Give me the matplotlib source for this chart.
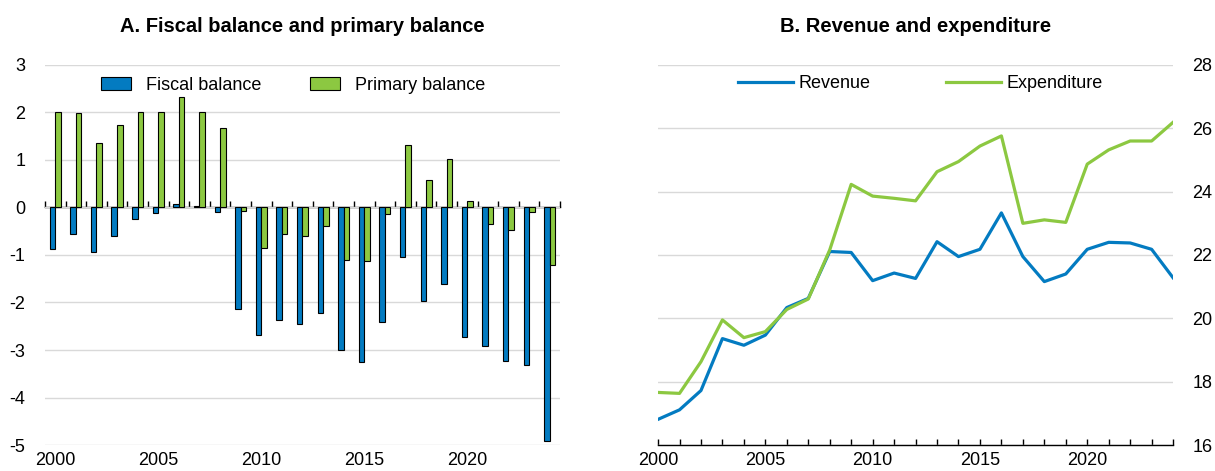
import numpy as np
import matplotlib
matplotlib.use("Agg")
import matplotlib.pyplot as plt

plt.rcParams['font.family'] = ['Liberation Sans', 'DejaVu Sans']
plt.rcParams['axes.unicode_minus'] = False

years = list(range(2000, 2025))

fiscal_balance = [-0.87, -0.55, -0.93, -0.59, -0.24, -0.11, 0.08, 0.03, -0.10,
                  -2.14, -2.68, -2.36, -2.46, -2.22, -3.00, -3.26, -2.41, -1.05,
                  -1.97, -1.62, -2.73, -2.92, -3.23, -3.31, -4.91]
primary_balance = [2.01, 1.99, 1.35, 1.73, 2.01, 2.00, 2.32, 2.01, 1.67,
                   -0.08, -0.85, -0.56, -0.61, -0.38, -1.10, -1.13, -0.14, 1.32,
                   0.58, 1.03, 0.13, -0.34, -0.47, -0.10, -1.21]

revenue = [16.81, 17.11, 17.72, 19.36, 19.15, 19.47, 20.34, 20.63, 22.11,
           22.08, 21.19, 21.43, 21.26, 22.42, 21.95, 22.18, 23.33, 21.95,
           21.16, 21.40, 22.18, 22.40, 22.38, 22.18, 21.28]
expenditure = [17.66, 17.63, 18.63, 19.95, 19.39, 19.58, 20.28, 20.61, 22.16,
               24.23, 23.86, 23.79, 23.71, 24.63, 24.95, 25.44, 25.76, 23.00,
               23.11, 23.03, 24.87, 25.32, 25.60, 25.60, 26.19]

year_labels = [2000, 2005, 2010, 2015, 2020]

BLUE = '#037bc1'
GREEN = '#8cc841'
GRID = '#d9d9d9'
FS = 13
TFS = 14.5

fig = plt.figure(figsize=(12.15, 4.71), dpi=100)

# ---- Panel A: bars
ax1 = fig.add_axes([0.037, 0.0552, 0.4239, 0.8068])
x = np.array(years)
w = 0.27
ax1.bar(x - w / 2, fiscal_balance, w, color=BLUE, edgecolor='black',
        linewidth=0.8, label='Fiscal balance', zorder=3)
ax1.bar(x + w / 2, primary_balance, w, color=GREEN, edgecolor='black',
        linewidth=0.8, label='Primary balance', zorder=3)
ax1.set_xlim(years[0] - 0.5, years[-1] + 0.5)
ax1.set_ylim(-5, 3)
ax1.set_yticks(range(-5, 4))
ax1.yaxis.grid(True, color=GRID, linewidth=1.0, zorder=0)
ax1.set_axisbelow(True)
for s in ax1.spines.values():
    s.set_visible(False)
ax1.set_xticks(year_labels)
ax1.tick_params(axis='both', length=0, labelsize=FS)
ax1.tick_params(axis='x', pad=5)
ax1.tick_params(axis='y', pad=14)

# zero line with tick marks between the year groups
zero = ax1.secondary_xaxis(0, transform=ax1.transData)
zero.set_xticks(np.arange(years[0] - 0.5, years[-1] + 1.0, 1.0))
zero.tick_params(direction='in', length=4, width=1, labelbottom=False)
zero.spines['bottom'].set_linewidth(1.0)
zero.spines['bottom'].set_zorder(4)

ax1.legend(loc='center', bbox_to_anchor=(0.482, 0.947), ncol=2,
           frameon=False, fontsize=FS, handlelength=1.67, handleheight=0.75,
           columnspacing=2.7, handletextpad=0.83)
ax1.set_title('A. Fiscal balance and primary balance', fontsize=TFS,
              fontweight='bold', pad=24)

# ---- Panel B: lines
ax2 = fig.add_axes([0.5416, 0.0552, 0.4239, 0.8068])
ax2.plot(years, revenue, color=BLUE, linewidth=2.3, label='Revenue', zorder=3)
ax2.plot(years, expenditure, color=GREEN, linewidth=2.3, label='Expenditure',
         zorder=3)
ax2.set_xlim(years[0], years[-1])
ax2.set_ylim(16, 28)
ax2.set_yticks(range(16, 29, 2))
ax2.yaxis.tick_right()
ax2.yaxis.grid(True, color=GRID, linewidth=1.0, zorder=0)
ax2.set_axisbelow(True)
for name, s in ax2.spines.items():
    s.set_visible(name == 'bottom')
ax2.spines['bottom'].set_linewidth(1.0)
ax2.set_xticks(years)
ax2.set_xticklabels([str(y) if y in year_labels else '' for y in years])
ax2.tick_params(axis='x', direction='in', length=4.5, width=1, labelsize=FS,
                pad=5)
ax2.tick_params(axis='y', length=0, labelsize=FS, pad=14)
ax2.legend(loc='center', bbox_to_anchor=(0.509, 0.95), ncol=2,
           frameon=False, fontsize=FS, handlelength=3.05, columnspacing=4.2,
           handletextpad=0.28)
ax2.set_title('B. Revenue and expenditure', fontsize=TFS, fontweight='bold',
              pad=24)

fig.savefig('out.png', dpi=100)
